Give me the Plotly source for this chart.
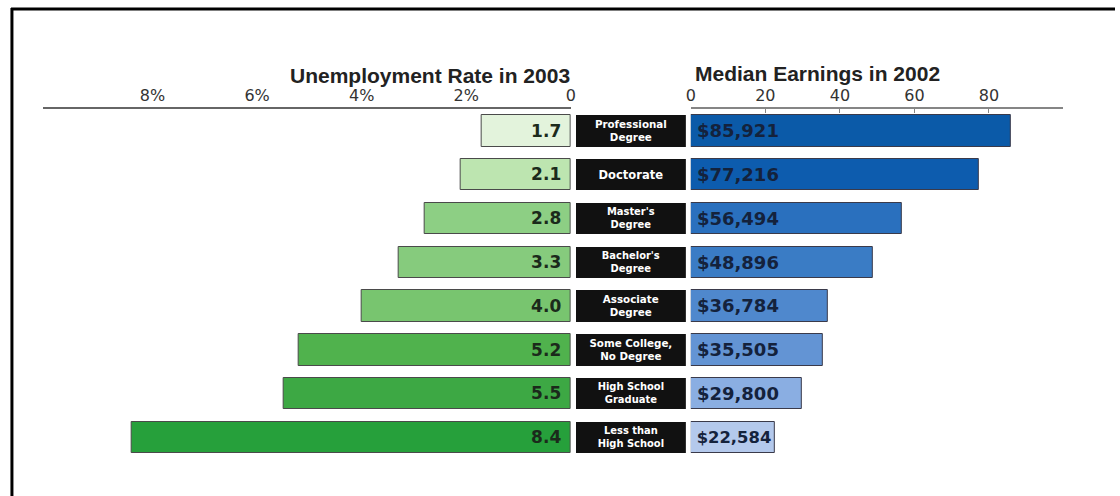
import plotly.graph_objects as go

W, H = 1120, 496

categories = ["Professional<br>Degree", "Doctorate", "Master's<br>Degree", "Bachelor's<br>Degree",
              "Associate<br>Degree", "Some College,<br>No Degree", "High School<br>Graduate",
              "Less than<br>High School"]
unemployment = [1.7, 2.1, 2.8, 3.3, 4.0, 5.2, 5.5, 8.4]
earnings = [85921, 77216, 56494, 48896, 36784, 35505, 29800, 22584]
left_ticks = [8, 6, 4, 2, 0]
left_tick_text = ["8%", "6%", "4%", "2%", "0"]
right_ticks = [0, 20, 40, 60, 80, 100]
right_tick_text = ["0", "20", "40", "60", "80", ""]

green_colors = ["#e3f3dc", "#bde5b0", "#8dcf84", "#86cb7d", "#78c56f", "#50b24d", "#3da844", "#26a03b"]
blue_colors = ["#0b5aa8", "#0d5cae", "#2a70be", "#3a7cc5", "#4f88cd", "#6394d4", "#8aaee2", "#b4c9ec"]

ids = list(range(len(categories)))
earn_k = [e / 1000 for e in earnings]
earn_text = ["\u2009${:,}".format(e) for e in earnings]


def px(x):
    return x / W


def py(y):
    return 1 - y / H


fig = go.Figure()

fig.add_trace(go.Bar(
    y=ids, x=unemployment, orientation="h", xaxis="x", yaxis="y",
    marker=dict(color=green_colors, line=dict(color="#4a4a4a", width=1)),
    width=0.72,
    text=["{:.1f}\u00a0".format(v) for v in unemployment], textposition="inside",
    insidetextanchor="start",
    textfont=dict(family="DejaVu Sans", size=17, color="#1b2a1b", weight="bold"),
    hoverinfo="skip", showlegend=False,
))

fig.add_trace(go.Bar(
    y=ids, x=[1] * len(ids), orientation="h", xaxis="x2", yaxis="y",
    marker=dict(color="#111111", line=dict(color="#111111", width=0)),
    width=0.72,
    text=categories, textposition="inside", insidetextanchor="middle",
    textfont=dict(family="DejaVu Sans", size=11.5, color="white", weight="bold"),
    hoverinfo="skip", showlegend=False,
))

fig.add_trace(go.Bar(
    y=ids, x=earn_k, orientation="h", xaxis="x3", yaxis="y",
    marker=dict(color=blue_colors, line=dict(color="#3a3a4a", width=1)),
    width=0.72,
    text=earn_text, textposition="inside", insidetextanchor="start",
    textfont=dict(family="DejaVu Sans", size=18, color="#14223c", weight="bold"),
    hoverinfo="skip", showlegend=False,
))

tickfont = dict(family="DejaVu Sans", size=16, color="#333333")

fig.update_layout(
    width=W, height=H,
    margin=dict(l=0, r=0, t=0, b=0),
    paper_bgcolor="white", plot_bgcolor="white",
    bargap=0,
    xaxis=dict(domain=[px(38), px(571)], range=[10.1, 0], side="top", anchor="y",
               showline=True, linecolor="#666666", linewidth=2, showgrid=False, zeroline=False,
               tickvals=left_ticks, ticktext=left_tick_text, ticks="", tickfont=tickfont,
               fixedrange=True),
    xaxis2=dict(domain=[px(576), px(687)], range=[0, 1], anchor="y", visible=False, fixedrange=True),
    xaxis3=dict(domain=[px(692), px(1068)], range=[0, 100], side="top", anchor="y",
                showline=True, linecolor="#858585", linewidth=1.5, showgrid=False, zeroline=False,
                tickvals=right_ticks, ticktext=right_tick_text, ticks="inside", ticklen=4,
                tickcolor="#858585", tickwidth=1, tickfont=tickfont, fixedrange=True),
    yaxis=dict(domain=[py(459.4), py(109)], range=[7.5, -0.5], visible=False, fixedrange=True),
    annotations=[
        dict(text="<b>Unemployment Rate in 2003</b>", x=px(429), y=py(75), xref="paper", yref="paper",
             xanchor="center", yanchor="middle", showarrow=False,
             font=dict(family="Liberation Sans", size=21, color="#222222")),
        dict(text="<b>Median Earnings in 2002</b>", x=px(820), y=py(74), xref="paper", yref="paper",
             xanchor="center", yanchor="middle", showarrow=False,
             font=dict(family="Liberation Sans", size=21, color="#222222")),
    ],
    shapes=[
        dict(type="line", xref="paper", yref="paper", x0=px(6), x1=1.0, y0=py(9), y1=py(9),
             line=dict(color="black", width=3)),
        dict(type="line", xref="paper", yref="paper", x0=px(7), x1=px(7), y0=py(8), y1=0,
             line=dict(color="black", width=3)),
    ],
)

fig.write_html("out.html")
